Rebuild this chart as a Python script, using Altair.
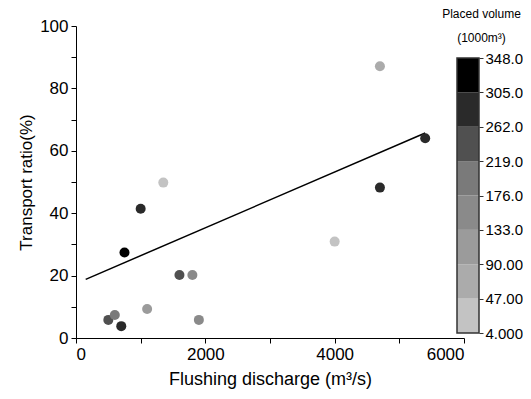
import altair as alt
import pandas as pd

# Data
discharge = [750, 1000, 5400, 4700, 700, 500, 1600, 600, 1800, 1900, 1100, 1350, 4000, 4700]
ratio = [27.4, 41.4, 64.0, 48.2, 3.8, 5.8, 20.2, 7.4, 20.2, 5.8, 9.3, 49.8, 30.9, 87.1]
volume = [340, 290, 280, 280, 270, 240, 230, 190, 150, 140, 110, 20, 30, 60]
fit_x = [150, 5400]
fit_y = [18.8, 65.7]
bin_colors = ["#c3c3c3", "#ababab", "#9b9b9b", "#8a8a8a",
              "#7a7a7a", "#505050", "#2a2a2a", "#000000"]
bin_edges = [4, 47, 90, 133, 176, 219, 262, 305, 348]
x_ticks = [0, 1000, 2000, 3000, 4000, 5000, 6000]
y_ticks = [0, 10, 20, 30, 40, 50, 60, 70, 80, 90, 100]

df = pd.DataFrame({"discharge": discharge, "ratio": ratio, "volume": volume})
fit = pd.DataFrame({"discharge": fit_x, "ratio": fit_y})
bins = pd.DataFrame({"lo": bin_edges[:-1], "hi": bin_edges[1:], "color": bin_colors})
frame = pd.DataFrame({"lo": [bin_edges[0]], "hi": [bin_edges[-1]]})

FONT = "Liberation Sans"

x_enc = alt.X(
    "discharge:Q",
    scale=alt.Scale(domain=[0, 6000], nice=False, zero=False),
    axis=alt.Axis(
        values=x_ticks, format="d",
        labelExpr="datum.value % 2000 == 0 ? datum.label : ''",
        title="Flushing discharge (m³/s)", grid=False, titleFontSize=18,
    ),
)
y_enc = alt.Y(
    "ratio:Q",
    scale=alt.Scale(domain=[0, 100], nice=False),
    axis=alt.Axis(
        values=y_ticks, format="d",
        labelExpr="datum.value % 20 == 0 ? datum.label : ''",
        title="Transport ratio(%)", grid=False, titleFontSize=17,
    ),
)

line = alt.Chart(fit).mark_line(color="black", strokeWidth=1.5).encode(x=x_enc, y=y_enc)

pts = alt.Chart(df).mark_circle(size=100, opacity=1).encode(
    x=x_enc,
    y=y_enc,
    color=alt.Color(
        "volume:Q",
        scale=alt.Scale(type="threshold", domain=bin_edges[1:-1], range=bin_colors),
        legend=None,
    ),
)

main = alt.layer(line, pts)

# colour bar (legend) drawn with its own y scale
cb_scale = alt.Scale(domain=[-2.25, 388.03], nice=False, zero=False)
cb_axis = alt.Axis(
    orient="right", values=bin_edges, format=".4r", offset=15,
    domain=False, tickSize=4, tickColor="#333333", labelPadding=2,
    labelFontSize=15, grid=False,
    title=["Placed volume", "(1000m³)"], titleAngle=0, titleAlign="center",
    titleBaseline="top", titleX=2, titleY=-18, titleFontSize=12,
    titleLineHeight=24,
)
cb_rects = alt.Chart(bins).mark_rect().encode(
    x=alt.value(381), x2=alt.value(403),
    y=alt.Y("lo:Q", scale=cb_scale, axis=cb_axis),
    y2="hi:Q",
    color=alt.Color("color:N", scale=None),
)
cb_frame = alt.Chart(frame).mark_rect(fillOpacity=0, stroke="#333333", strokeWidth=1.5).encode(
    x=alt.value(381), x2=alt.value(403),
    y=alt.Y("lo:Q", scale=cb_scale, axis=cb_axis),
    y2="hi:Q",
)
cbar = alt.layer(cb_rects, cb_frame)

chart = alt.layer(main, cbar).resolve_scale(
    y="independent", color="independent"
).properties(
    width=388, height=312,
    padding={"left": 68, "top": 18, "right": 59, "bottom": 53},
    autosize=alt.AutoSizeParams(type="none"),
).configure_view(stroke=None).configure_axis(
    domainColor="black", domainWidth=1, tickColor="black", tickSize=5,
    labelFont=FONT, labelFontSize=17, labelColor="black", labelPadding=3,
    titleFont=FONT, titleFontWeight="normal", titleColor="black",
).configure_axisX(titlePadding=8).configure_axisY(titlePadding=4)

chart.save("out.html", embed_options={"renderer": "svg", "actions": False})
